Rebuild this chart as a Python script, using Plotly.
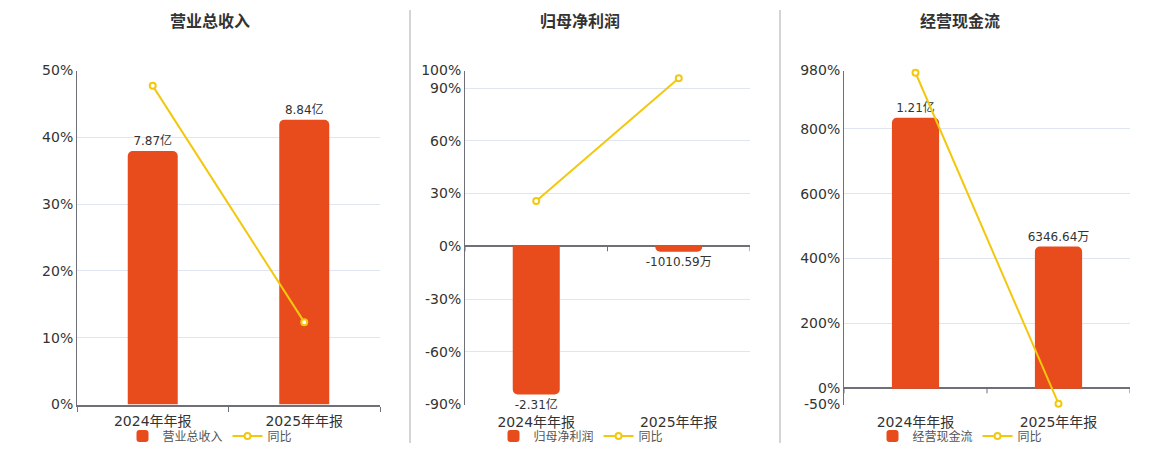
import plotly.graph_objects as go

# 报告期
periods = ["2024年年报", "2025年年报"]

# 营业总收入 (亿) 及同比 (%)
revenue = [7.87, 8.84]
revenue_text = ["7.87亿", "8.84亿"]
revenue_yoy = [47.7, 12.33]

# 归母净利润 (亿) 及同比 (%)
profit = [-2.31, -0.101059]
profit_text = ["-2.31亿", "-1010.59万"]
profit_yoy = [25.8, 95.63]

# 经营现金流 (亿) 及同比 (%)
cashflow = [1.21, 0.634664]
cashflow_text = ["1.21亿", "6346.64万"]
cashflow_yoy = [973, -47.55]

titles = ["营业总收入", "归母净利润", "经营现金流"]
yoy_ticks = [
    [0, 10, 20, 30, 40, 50],
    [-90, -60, -30, 0, 30, 60, 90, 100],
    [-50, 0, 200, 400, 600, 800, 980],
]
yoy_ranges = [[0, 50], [-90, 100], [-50, 980]]
bar_ranges = [[0, 10.37], [-2.465, 2.703], [-0.0705, 1.4207]]

BAR_COLOR = "#E84C1D"
LINE_COLOR = "#F2C80F"
AXIS_COLOR = "#6E7079"
GRID_COLOR = "#E0E6F1"
FONT = "DejaVu Sans, Noto Sans CJK SC, sans-serif"

# 页面有 8px 的 body 边距, 像素位置 -> paper 坐标
W, H = 1160, 450
OFF = 8


def px(v):
    return (v - OFF) / W


def py(v):
    return 1 - (v - OFF) / H


x_domains = [[px(77), px(380)], [px(465), px(750)], [px(844), px(1130)]]
y_domain = [py(404.5), py(70.5)]
legend_x = [px(210), px(581), px(960)]
title_x = [px(210), px(580), px(960)]

data = [
    (revenue, revenue_text, revenue_yoy),
    (profit, profit_text, profit_yoy),
    (cashflow, cashflow_text, cashflow_yoy),
]

fig = go.Figure()
layout = {}
shapes = []
annotations = []

for i, (vals, texts, yoy) in enumerate(data):
    n = i + 1
    xa = "x" if n == 1 else f"x{n}"
    ya_bar = "y" if n == 1 else f"y{n}"
    ya_pct = f"y{n + 3}"
    lg = "legend" if n == 1 else f"legend{n}"

    fig.add_trace(go.Bar(
        x=periods, y=vals, text=texts, name=titles[i],
        xaxis=xa, yaxis=ya_bar, legend=lg,
        width=0.33,
        marker=dict(color=BAR_COLOR, cornerradius=5, line=dict(width=0)),
        textposition="outside", cliponaxis=False, constraintext="none",
        textfont=dict(size=12, color="#333", family=FONT),
        hoverinfo="x+text",
    ))
    fig.add_trace(go.Scatter(
        x=periods, y=yoy, name="同比", mode="lines+markers",
        xaxis=xa, yaxis=ya_pct, legend=lg,
        line=dict(color=LINE_COLOR, width=2),
        marker=dict(size=6, color="white", line=dict(color=LINE_COLOR, width=2)),
        cliponaxis=False,
    ))

    xkey = "xaxis" if n == 1 else f"xaxis{n}"
    layout[xkey] = dict(
        domain=x_domains[i], anchor=ya_bar, type="category",
        range=[-0.5, 1.5], showgrid=False, zeroline=False,
        showline=(n == 1), linecolor=AXIS_COLOR, linewidth=2,
        ticks="outside" if n == 1 else "", tickson="boundaries",
        ticklen=5, tickcolor=AXIS_COLOR,
        ticklabelstandoff=3 if n == 1 else 7,
        tickfont=dict(size=14, color="#333", family=FONT),
        automargin=False,
    )
    ykey_bar = "yaxis" if n == 1 else f"yaxis{n}"
    layout[ykey_bar] = dict(
        domain=y_domain, anchor=xa, range=bar_ranges[i], visible=False,
    )
    layout[f"yaxis{n + 3}"] = dict(
        overlaying=ya_bar, anchor=xa, side="left", range=yoy_ranges[i],
        tickmode="array", tickvals=yoy_ticks[i],
        ticktext=[f"{v}%" for v in yoy_ticks[i]],
        showgrid=True, gridcolor=GRID_COLOR, gridwidth=1,
        zeroline=(n != 1), zerolinecolor=AXIS_COLOR, zerolinewidth=2,
        showline=True, linecolor=AXIS_COLOR, linewidth=1,
        ticks="", tickfont=dict(size=14, color="#333", family=FONT),
        automargin=False,
    )
    layout[lg] = dict(
        orientation="h", x=legend_x[i], xanchor="center",
        y=py(436), yanchor="middle",
        font=dict(size=12, color="#555", family=FONT),
        bgcolor="rgba(0,0,0,0)", itemwidth=30,
    )

    # 零轴上的分类刻度 (净利润、现金流)
    if n != 1:
        for b in [-0.5, 0.5, 1.5]:
            shapes.append(dict(
                type="line", xref=xa, yref=ya_pct, x0=b, x1=b,
                ysizemode="pixel", yanchor=0, y0=0, y1=-5,
                line=dict(color=AXIS_COLOR, width=1),
            ))

    annotations.append(dict(
        text=f"<b>{titles[i]}</b>", x=title_x[i], y=py(22),
        xref="paper", yref="paper", xanchor="center", yanchor="middle",
        showarrow=False, font=dict(size=16, color="#333", family=FONT),
    ))

# 面板分隔线
for sx in [410, 780]:
    shapes.append(dict(
        type="line", xref="paper", yref="paper",
        x0=px(sx), x1=px(sx), y0=py(443), y1=py(10),
        line=dict(color="#AAAAAA", width=1),
    ))

fig.update_layout(
    **layout,
    shapes=shapes,
    annotations=annotations,
    width=W, height=H,
    margin=dict(l=0, r=0, t=0, b=0),
    plot_bgcolor="white", paper_bgcolor="white",
    font=dict(family=FONT, color="#333"),
    showlegend=True,
)

fig.write_html("out.html")
